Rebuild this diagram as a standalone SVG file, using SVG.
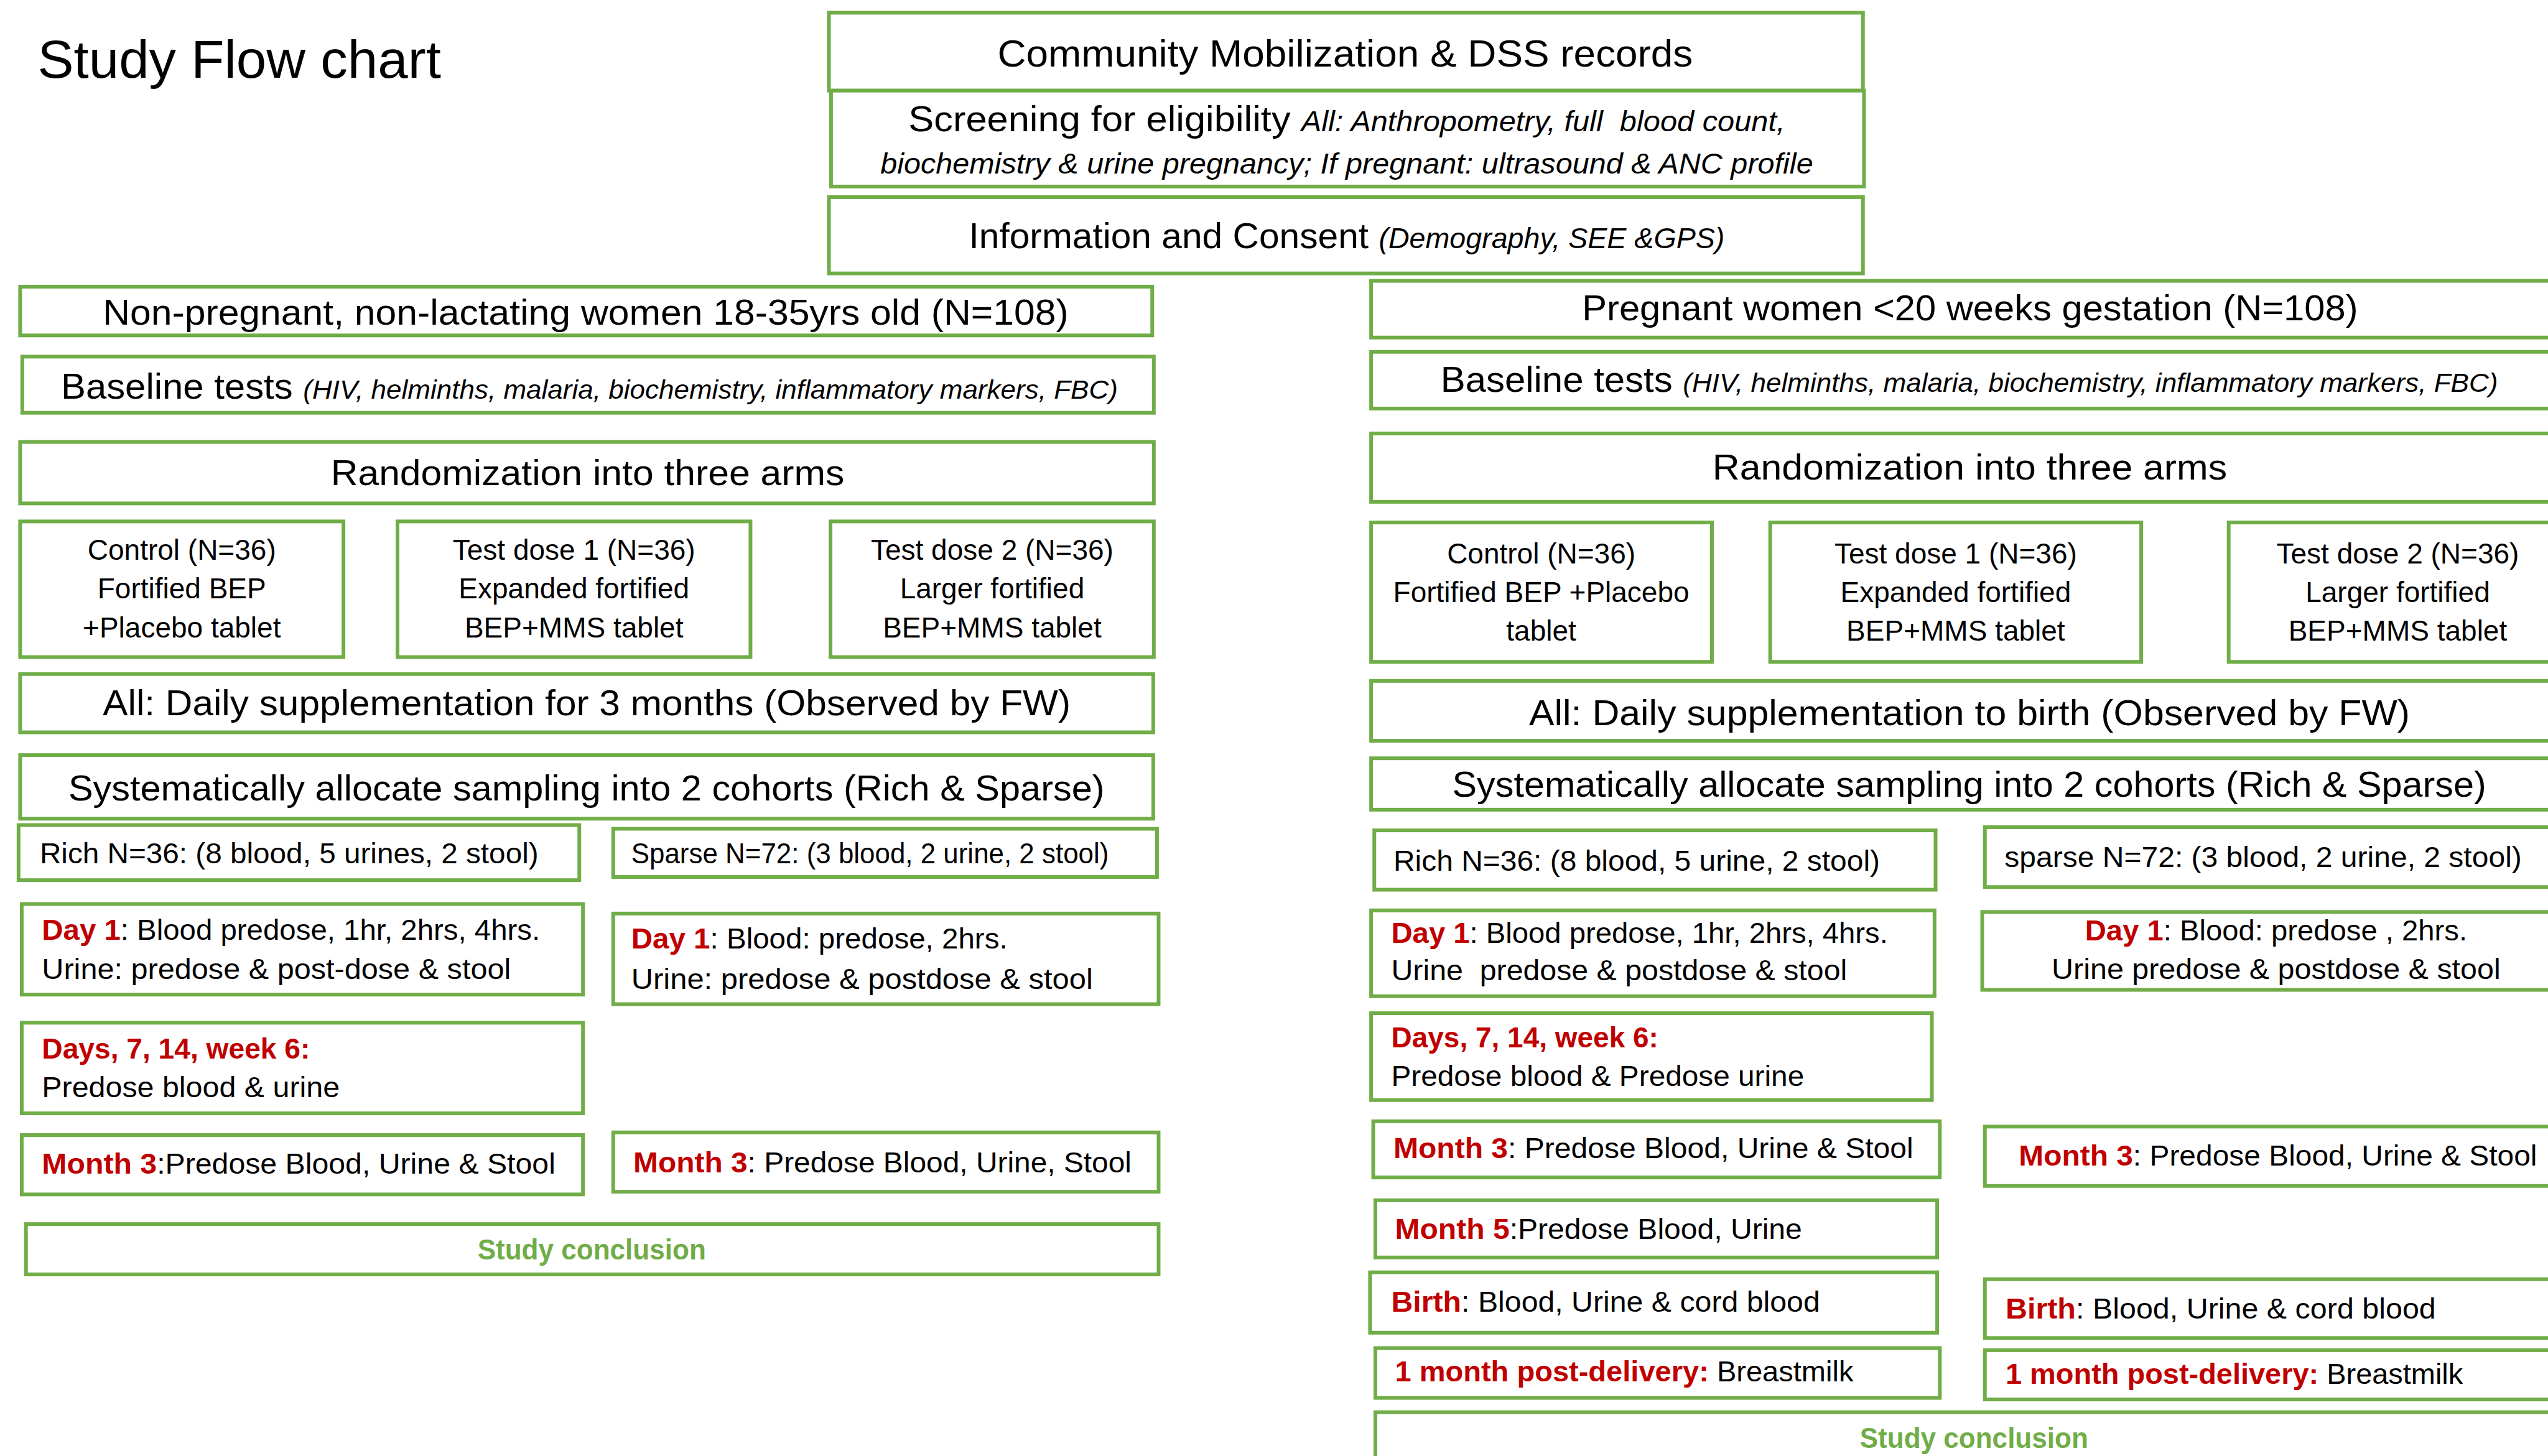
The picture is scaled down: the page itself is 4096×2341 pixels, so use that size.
<svg xmlns="http://www.w3.org/2000/svg" width="4096" height="2341" viewBox="0 0 4096 2341">
<style>
.box{fill:#fff;stroke:#70AD47;stroke-width:7}
.t{font-family:"Liberation Sans",Arial,sans-serif;fill:#000}
.m{font-size:68px}
.s{font-size:54px}
.i{font-style:italic}
.r{fill:#C00000;font-weight:bold}
.c{text-anchor:middle}
.g{fill:#70AD47;font-weight:bold;font-size:54px}
</style>
<rect x="0" y="0" width="4096" height="2341" fill="#fff"/>
<g transform="scale(0.852)">
<g id="title"><text class="t" x="71" y="147" font-size="99" textLength="761" lengthAdjust="spacingAndGlyphs">Study Flow chart</text></g>
<g id="community"><rect class="box" x="1564" y="24" width="1951" height="147"/>
<text class="t" x="1882" y="125" font-size="72" textLength="1312" lengthAdjust="spacingAndGlyphs">Community Mobilization &amp; DSS records</text></g>
<g id="screening"><rect class="box" x="1568" y="171" width="1949" height="181"/>
<text class="t m" x="1714" y="248" textLength="1654" lengthAdjust="spacingAndGlyphs" xml:space="preserve">Screening for eligibility <tspan class="i" font-size="54">All: Anthropometry, full  blood count,</tspan></text>
<text class="t i" x="1661" y="327" font-size="54" textLength="1760" lengthAdjust="spacingAndGlyphs">biochemistry &amp; urine pregnancy; If pregnant: ultrasound &amp; ANC profile</text></g>
<g id="consent"><rect class="box" x="1564" y="372" width="1951" height="144"/>
<text class="t m" x="1828" y="468" textLength="1426" lengthAdjust="spacingAndGlyphs">Information and Consent <tspan class="i" font-size="54">(Demography, SEE &amp;GPS)</tspan></text></g>

<g id="nonpregnant"><rect class="box" x="38" y="541" width="2136" height="92"/>
<text class="t m" x="194" y="613" textLength="1822" lengthAdjust="spacingAndGlyphs">Non-pregnant, non-lactating women 18-35yrs old (N=108)</text></g>
<g id="baseline-left"><rect class="box" x="42" y="673" width="2135" height="106"/>
<text class="t m" x="115" y="752" textLength="1994" lengthAdjust="spacingAndGlyphs">Baseline tests <tspan class="i" font-size="50">(HIV, helminths, malaria, biochemistry, inflammatory markers, FBC)</tspan></text></g>
<g id="random-left"><rect class="box" x="38" y="834" width="2139" height="116"/>
<text class="t m" x="624" y="915" textLength="969" lengthAdjust="spacingAndGlyphs">Randomization into three arms</text></g>
<g id="control-left"><rect class="box" x="38" y="984" width="610" height="256"/>
<text class="t s c" x="343" y="1056">Control (N=36)</text><text class="t s c" x="343" y="1129">Fortified BEP</text><text class="t s c" x="343" y="1203">+Placebo tablet</text></g>
<g id="test1-left"><rect class="box" x="750" y="984" width="666" height="256"/>
<text class="t s c" x="1083" y="1056">Test dose 1 (N=36)</text><text class="t s c" x="1083" y="1129">Expanded fortified</text><text class="t s c" x="1083" y="1203">BEP+MMS tablet</text></g>
<g id="test2-left"><rect class="box" x="1567" y="984" width="610" height="256"/>
<text class="t s c" x="1872" y="1056">Test dose 2 (N=36)</text><text class="t s c" x="1872" y="1129">Larger fortified</text><text class="t s c" x="1872" y="1203">BEP+MMS tablet</text></g>
<g id="daily-left"><rect class="box" x="38" y="1272" width="2138" height="110"/>
<text class="t m" x="194" y="1350" textLength="1826" lengthAdjust="spacingAndGlyphs">All: Daily supplementation for 3 months (Observed by FW)</text></g>
<g id="cohorts-left"><rect class="box" x="38" y="1425" width="2138" height="120"/>
<text class="t m" x="129" y="1511" textLength="1955" lengthAdjust="spacingAndGlyphs">Systematically allocate sampling into 2 cohorts (Rich &amp; Sparse)</text></g>
<g id="rich-left"><rect class="box" x="35" y="1557" width="1058" height="104"/>
<text class="t s" x="75" y="1629" textLength="941" lengthAdjust="spacingAndGlyphs">Rich N=36: (8 blood, 5 urines, 2 stool)</text></g>
<g id="sparse-left"><rect class="box" x="1157" y="1564" width="1026" height="91"/>
<text class="t s" x="1191" y="1629" textLength="901" lengthAdjust="spacingAndGlyphs">Sparse N=72: (3 blood, 2 urine, 2 stool)</text></g>
<g id="day1-rich-left"><rect class="box" x="41" y="1706" width="1059" height="171"/>
<text class="t s" x="79" y="1774" textLength="940" lengthAdjust="spacingAndGlyphs"><tspan class="r">Day 1</tspan>: Blood predose, 1hr, 2hrs, 4hrs.</text>
<text class="t s" x="79" y="1848" textLength="885" lengthAdjust="spacingAndGlyphs">Urine: predose &amp; post-dose &amp; stool</text></g>
<g id="day1-sparse-left"><rect class="box" x="1157" y="1724" width="1029" height="171"/>
<text class="t s" x="1191" y="1790" textLength="710" lengthAdjust="spacingAndGlyphs"><tspan class="r">Day 1</tspan>: Blood: predose, 2hrs.</text>
<text class="t s" x="1191" y="1866" textLength="871" lengthAdjust="spacingAndGlyphs">Urine: predose &amp; postdose &amp; stool</text></g>
<g id="days7-left"><rect class="box" x="41" y="1930" width="1059" height="171"/>
<text class="t s r" x="79" y="1998" textLength="506" lengthAdjust="spacingAndGlyphs">Days, 7, 14, week 6:</text>
<text class="t s" x="79" y="2071" textLength="562" lengthAdjust="spacingAndGlyphs">Predose blood &amp; urine</text></g>
<g id="month3-rich-left"><rect class="box" x="41" y="2142" width="1059" height="112"/>
<text class="t s" x="79" y="2215" textLength="969" lengthAdjust="spacingAndGlyphs"><tspan class="r">Month 3</tspan>:Predose Blood, Urine &amp; Stool</text></g>
<g id="month3-sparse-left"><rect class="box" x="1157" y="2137" width="1029" height="112"/>
<text class="t s" x="1195" y="2212" textLength="940" lengthAdjust="spacingAndGlyphs"><tspan class="r">Month 3</tspan>: Predose Blood, Urine, Stool</text></g>
<g id="conclusion-left"><rect class="box" x="49" y="2310" width="2137" height="95"/>
<text class="t g" x="901" y="2377" textLength="431" lengthAdjust="spacingAndGlyphs">Study conclusion</text></g>

<g id="pregnant"><rect class="box" x="2587" y="530" width="2263" height="107"/>
<text class="t m" x="2985" y="605" textLength="1464" lengthAdjust="spacingAndGlyphs">Pregnant women &lt;20 weeks gestation (N=108)</text></g>
<g id="baseline-right"><rect class="box" x="2587" y="664" width="2263" height="107"/>
<text class="t m" x="2718" y="740" textLength="1995" lengthAdjust="spacingAndGlyphs">Baseline tests <tspan class="i" font-size="50">(HIV, helminths, malaria, biochemistry, inflammatory markers, FBC)</tspan></text></g>
<g id="random-right"><rect class="box" x="2587" y="818" width="2263" height="129"/>
<text class="t m" x="3231" y="905" textLength="971" lengthAdjust="spacingAndGlyphs">Randomization into three arms</text></g>
<g id="control-right"><rect class="box" x="2587" y="986" width="643" height="263"/>
<text class="t s c" x="2908" y="1063">Control (N=36)</text><text class="t s c" x="2908" y="1136">Fortified BEP +Placebo</text><text class="t s c" x="2908" y="1209">tablet</text></g>
<g id="test1-right"><rect class="box" x="3340" y="986" width="700" height="263"/>
<text class="t s c" x="3690" y="1063">Test dose 1 (N=36)</text><text class="t s c" x="3690" y="1136">Expanded fortified</text><text class="t s c" x="3690" y="1209">BEP+MMS tablet</text></g>
<g id="test2-right"><rect class="box" x="4205" y="986" width="645" height="263"/>
<text class="t s c" x="4524" y="1063">Test dose 2 (N=36)</text><text class="t s c" x="4524" y="1136">Larger fortified</text><text class="t s c" x="4524" y="1209">BEP+MMS tablet</text></g>
<g id="daily-right"><rect class="box" x="2587" y="1285" width="2263" height="113"/>
<text class="t m" x="2885" y="1368" textLength="1662" lengthAdjust="spacingAndGlyphs">All: Daily supplementation to birth (Observed by FW)</text></g>
<g id="cohorts-right"><rect class="box" x="2587" y="1431" width="2263" height="97"/>
<text class="t m" x="2740" y="1504" textLength="1951" lengthAdjust="spacingAndGlyphs">Systematically allocate sampling into 2 cohorts (Rich &amp; Sparse)</text></g>
<g id="rich-right"><rect class="box" x="2593" y="1567" width="1059" height="112"/>
<text class="t s" x="2629" y="1643" textLength="918" lengthAdjust="spacingAndGlyphs">Rich N=36: (8 blood, 5 urine, 2 stool)</text></g>
<g id="sparse-right"><rect class="box" x="3745" y="1561" width="1105" height="113"/>
<text class="t s" x="3782" y="1636" textLength="976" lengthAdjust="spacingAndGlyphs">sparse N=72: (3 blood, 2 urine, 2 stool)</text></g>
<g id="day1-rich-right"><rect class="box" x="2587" y="1718" width="1063" height="162"/>
<text class="t s" x="2625" y="1779" textLength="937" lengthAdjust="spacingAndGlyphs"><tspan class="r">Day 1</tspan>: Blood predose, 1hr, 2hrs, 4hrs.</text>
<text class="t s" x="2625" y="1850" textLength="860" lengthAdjust="spacingAndGlyphs" xml:space="preserve">Urine  predose &amp; postdose &amp; stool</text></g>
<g id="day1-sparse-right"><rect class="box" x="3740" y="1721" width="1112" height="147"/>
<text class="t s" x="3934" y="1775" textLength="721" lengthAdjust="spacingAndGlyphs"><tspan class="r">Day 1</tspan>: Blood: predose , 2hrs.</text>
<text class="t s" x="3871" y="1848" textLength="847" lengthAdjust="spacingAndGlyphs">Urine predose &amp; postdose &amp; stool</text></g>
<g id="days7-right"><rect class="box" x="2587" y="1912" width="1058" height="164"/>
<text class="t s r" x="2625" y="1976" textLength="504" lengthAdjust="spacingAndGlyphs">Days, 7, 14, week 6:</text>
<text class="t s" x="2625" y="2049" textLength="779" lengthAdjust="spacingAndGlyphs">Predose blood &amp; Predose urine</text></g>
<g id="month3-rich-right"><rect class="box" x="2591" y="2116" width="1069" height="106"/>
<text class="t s" x="2629" y="2186" textLength="981" lengthAdjust="spacingAndGlyphs"><tspan class="r">Month 3</tspan>: Predose Blood, Urine &amp; Stool</text></g>
<g id="month3-sparse-right"><rect class="box" x="3745" y="2126" width="1105" height="112"/>
<text class="t s" x="3809" y="2200" textLength="978" lengthAdjust="spacingAndGlyphs"><tspan class="r">Month 3</tspan>: Predose Blood, Urine &amp; Stool</text></g>
<g id="month5-right"><rect class="box" x="2595" y="2265" width="1060" height="108"/>
<text class="t s" x="2632" y="2338" textLength="768" lengthAdjust="spacingAndGlyphs"><tspan class="r">Month 5</tspan>:Predose Blood, Urine</text></g>
<g id="birth-rich-right"><rect class="box" x="2585" y="2401" width="1070" height="114"/>
<text class="t s" x="2625" y="2475" textLength="809" lengthAdjust="spacingAndGlyphs"><tspan class="r">Birth</tspan>: Blood, Urine &amp; cord blood</text></g>
<g id="birth-sparse-right"><rect class="box" x="3745" y="2414" width="1105" height="111"/>
<text class="t s" x="3784" y="2488" textLength="812" lengthAdjust="spacingAndGlyphs"><tspan class="r">Birth</tspan>: Blood, Urine &amp; cord blood</text></g>
<g id="postdelivery-rich-right"><rect class="box" x="2595" y="2544" width="1065" height="94"/>
<text class="t s" x="2632" y="2607" textLength="865" lengthAdjust="spacingAndGlyphs"><tspan class="r">1 month post-delivery:</tspan> Breastmilk</text></g>
<g id="postdelivery-sparse-right"><rect class="box" x="3745" y="2548" width="1105" height="93"/>
<text class="t s" x="3784" y="2612" textLength="863" lengthAdjust="spacingAndGlyphs"><tspan class="r">1 month post-delivery:</tspan> Breastmilk</text></g>
<g id="conclusion-right"><rect class="box" x="2595" y="2665" width="2255" height="140"/>
<text class="t g" x="3509" y="2732" textLength="431" lengthAdjust="spacingAndGlyphs">Study conclusion</text></g>
<g id="connectors"></g>
</g>
</svg>
